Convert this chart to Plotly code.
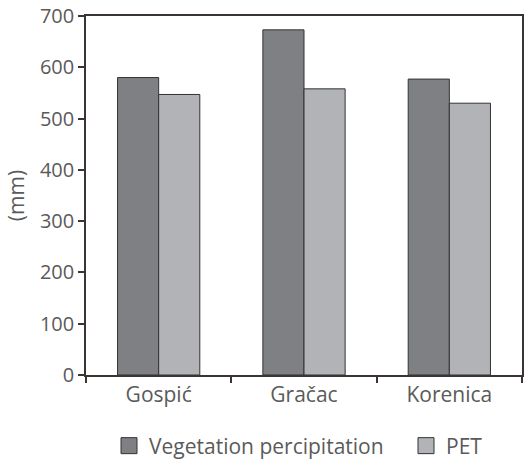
import plotly.graph_objects as go

categories = ["Gospić", "Gračac", "Korenica"]
veg_precip = [580, 673, 577]
pet = [547, 558, 530]
y_ticks = [0, 100, 200, 300, 400, 500, 600, 700]
series_names = ["Vegetation percipitation", "PET"]
series_colors = ["#7f8084", "#b2b3b7"]

fig = go.Figure()
for vals, name, col in zip([veg_precip, pet], series_names, series_colors):
    fig.add_trace(go.Bar(x=categories, y=vals, name=name, showlegend=False,
                         marker=dict(color=col, line=dict(color="#333333", width=1))))

# legend-only entries with larger square swatches
for name, col, leg in zip(series_names, series_colors, ["legend", "legend2"]):
    fig.add_trace(go.Scatter(x=[None], y=[None], mode="markers", name=name, legend=leg,
                             marker=dict(symbol="square", size=16, color=col,
                                         line=dict(color="#333333", width=1))))

leg_common = dict(orientation="h", xref="container", yref="container",
                  y=1 - 446 / 461, yanchor="middle", xanchor="left",
                  itemwidth=30, bgcolor="rgba(0,0,0,0)", itemsizing="trace",
                  font=dict(family="Open Sans", size=21, color="#5a5a5a"))

fig.update_layout(
    width=528, height=461,
    margin=dict(l=86, r=6, t=16, b=86, autoexpand=False),
    paper_bgcolor="white", plot_bgcolor="white",
    font=dict(family="Open Sans", size=20, color="#5a5a5a"),
    barmode="group", bargap=0.434, bargroupgap=0,
    showlegend=True,
    legend=dict(leg_common, x=(129 - 20) / 528),
    legend2=dict(leg_common, x=(426 - 20) / 528),
)
fig.update_xaxes(showline=True, linecolor="#3a3532", linewidth=1.5, mirror=True,
                 ticks="outside", tickson="boundaries", ticklen=6, tickcolor="#3a3532",
                 tickwidth=1.5, showgrid=False, automargin=False,
                 tickfont=dict(size=21))
fig.update_yaxes(range=[0, 700], tickvals=y_ticks, showline=True, linecolor="#3a3532",
                 linewidth=1.5, mirror=True, ticks="outside", ticklen=6,
                 tickcolor="#3a3532", tickwidth=1.5, showgrid=False, zeroline=False,
                 automargin=False, tickfont=dict(size=20),
                 title=dict(text="(mm)", standoff=10, font=dict(size=21)))

fig.write_html("out.html", config={"displayModeBar": False},
               post_script="document.body.style.margin='0';")
